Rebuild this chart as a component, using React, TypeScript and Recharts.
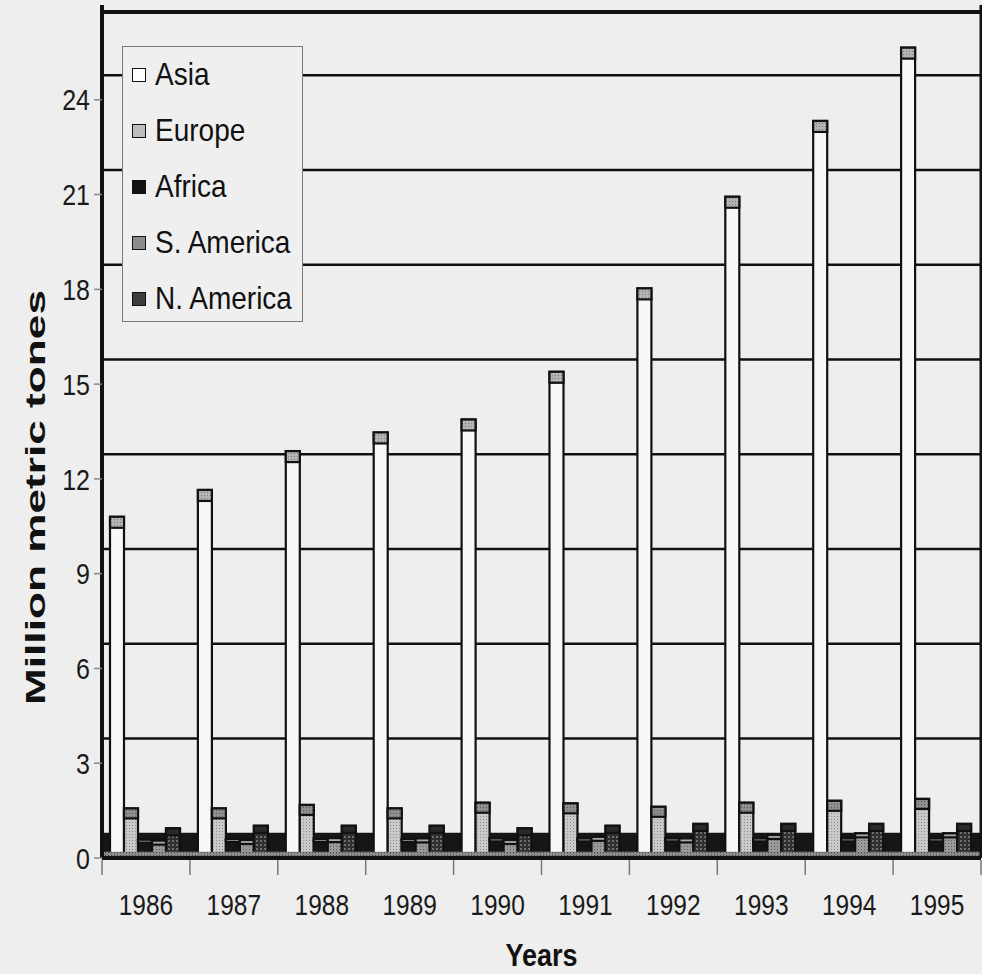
import React from 'react';
import {
  BarChart,
  Bar,
  XAxis,
  YAxis,
  CartesianGrid,
  Legend,
  ReferenceArea,
  ReferenceLine,
} from 'recharts';

const years = ['1986', '1987', '1988', '1989', '1990', '1991', '1992', '1993', '1994', '1995'];
const asia = [10.8, 11.65, 12.88, 13.47, 13.88, 15.39, 18.03, 20.93, 23.33, 25.65];
const europe = [1.57, 1.57, 1.68, 1.57, 1.75, 1.73, 1.62, 1.75, 1.81, 1.87];
const africa = [0.58, 0.6, 0.6, 0.6, 0.62, 0.62, 0.62, 0.62, 0.62, 0.62];
const sAmerica = [0.55, 0.57, 0.63, 0.62, 0.57, 0.67, 0.62, 0.73, 0.78, 0.78];
const nAmerica = [0.94, 1.02, 1.02, 1.02, 0.94, 1.02, 1.08, 1.08, 1.08, 1.08];

const yTicks = [0, 3, 6, 9, 12, 15, 18, 21, 24];
const wallTicks = [3, 6, 9, 12, 15, 18, 21, 24];

const data = years.map((year, i) => ({
  year,
  asia: asia[i],
  europe: europe[i],
  africa: africa[i],
  sAmerica: sAmerica[i],
  nAmerica: nAmerica[i],
}));

// back wall of the 3D frame sits ~25px above the front axis
const wallShift = 0.78;

const series = [
  { key: 'asia', name: 'Asia', fill: '#f8f8f8', cap: 'url(#capLight)', capH: 11, swatch: '#ffffff' },
  { key: 'europe', name: 'Europe', fill: 'url(#europe)', cap: 'url(#capMid)', capH: 10, swatch: '#bdbdbd' },
  { key: 'africa', name: 'Africa', fill: '#151515', cap: '#9c9c9c', capH: 3, swatch: '#111111' },
  { key: 'sAmerica', name: 'S. America', fill: 'url(#sam)', cap: '#a9a9a9', capH: 4, swatch: '#8c8c8c' },
  { key: 'nAmerica', name: 'N. America', fill: 'url(#nam)', cap: '#2a2a2a', capH: 7, swatch: '#3d3d3d' },
];

const font = '"Liberation Sans", Arial, Helvetica, sans-serif';

function Block(props: any) {
  const { x, y, width, height, fill, capFill, capH } = props;
  if (!height || height <= 0) return null;
  const c = Math.min(capH, height);
  return (
    <g>
      <rect x={x} y={y} width={width} height={height} fill={fill} stroke="#111" strokeWidth={2.2} />
      <rect x={x} y={y} width={width} height={c} fill={capFill} stroke="#111" strokeWidth={2.2} />
    </g>
  );
}

function XTick(props: any) {
  const { x, y, payload, index } = props;
  const half = payload.offset || 44;
  const last = index === years.length - 1;
  return (
    <g>
      <line x1={x - half} x2={x - half} y1={y + 2} y2={y + 17} stroke="#777" strokeWidth={1.5} />
      {last && <line x1={x + half} x2={x + half} y1={y + 2} y2={y + 17} stroke="#777" strokeWidth={1.5} />}
      <text
        transform={`translate(${x},${y + 57}) scale(1,1.18)`}
        textAnchor="middle"
        fontSize={24.5}
        fontFamily={font}
        fill="#1a1a1a"
      >
        {payload.value}
      </text>
    </g>
  );
}

function YTick(props: any) {
  const { x, y, payload } = props;
  return (
    <text
      transform={`translate(${x},${y}) scale(1,1.18)`}
      textAnchor="end"
      dy="0.36em"
      fontSize={25}
      fontFamily={font}
      fill="#1a1a1a"
    >
      {payload.value}
    </text>
  );
}

function YTitle(props: any) {
  const vb = props.viewBox || { x: 0, y: 5, width: 102, height: 853 };
  const cx = vb.x + 35;
  const cy = vb.y + vb.height / 2 + 66;
  return (
    <text
      x={cx}
      y={cy}
      transform={`rotate(-90 ${cx} ${cy})`}
      textAnchor="middle"
      dominantBaseline="central"
      fontSize={28}
      fontWeight="bold"
      fontFamily={font}
      textLength={415}
      lengthAdjust="spacingAndGlyphs"
      fill="#111"
    >
      Million metric tones
    </text>
  );
}

function XTitle(props: any) {
  const vb = props.viewBox || { x: 102, y: 858, width: 880, height: 80 };
  const cx = vb.x + vb.width / 2;
  return (
    <text
      transform={`translate(${cx},${vb.y + vb.height + 28}) scale(1,1.18)`}
      textAnchor="middle"
      fontSize={27}
      fontWeight="bold"
      fontFamily={font}
      fill="#111"
    >
      Years
    </text>
  );
}

function LegendBox() {
  return (
    <div
      style={{
        width: 181,
        height: 276,
        boxSizing: 'border-box',
        border: '1.5px solid #7a7a7a',
        background: '#efefef',
        fontFamily: font,
      }}
    >
      {series.map((s) => (
        <div key={s.key} style={{ display: 'flex', alignItems: 'center', height: 56, paddingLeft: 9 }}>
          <span
            style={{
              display: 'inline-block',
              width: 12,
              height: 12,
              border: '1.5px solid #111',
              background: s.swatch,
              marginRight: 9,
            }}
          />
          <span style={{ display: 'inline-block', fontSize: 28, color: '#111', transform: 'scaleY(1.15)' }}>
            {s.name}
          </span>
        </div>
      ))}
    </div>
  );
}

export default function App() {
  return (
    <div
      style={{
        position: 'absolute',
        left: 0,
        top: 0,
        width: 982,
        height: 974,
        background: '#eeeeee',
        fontFamily: font,
      }}
    >
      <BarChart
        width={982}
        height={974}
        data={data}
        margin={{ top: 5, right: 0, bottom: 36, left: 0 }}
        barCategoryGap={8}
        barGap={0}
      >
        <defs>
          <pattern id="europe" width="3" height="3" patternUnits="userSpaceOnUse">
            <rect width="3" height="3" fill="#c9c9c9" />
            <rect width="1" height="1" fill="#8e8e8e" />
          </pattern>
          <pattern id="sam" width="3" height="3" patternUnits="userSpaceOnUse">
            <rect width="3" height="3" fill="#9a9a9a" />
            <rect width="1" height="1" fill="#5a5a5a" />
          </pattern>
          <pattern id="nam" width="4" height="4" patternUnits="userSpaceOnUse">
            <rect width="4" height="4" fill="#2e2e2e" />
            <rect width="2" height="2" fill="#6e6e6e" />
          </pattern>
          <pattern id="capLight" width="3" height="3" patternUnits="userSpaceOnUse">
            <rect width="3" height="3" fill="#b4b4b4" />
            <rect width="1" height="1" fill="#777" />
          </pattern>
          <pattern id="capMid" width="3" height="3" patternUnits="userSpaceOnUse">
            <rect width="3" height="3" fill="#8f8f8f" />
            <rect width="1" height="1" fill="#555" />
          </pattern>
          <pattern id="floorEdge" width="3" height="3" patternUnits="userSpaceOnUse">
            <rect width="3" height="3" fill="#8a8a8a" />
            <rect width="1" height="1" fill="#444" />
          </pattern>
        </defs>
        <CartesianGrid
          yAxisId="wall"
          vertical={false}
          horizontalValues={wallTicks}
          stroke="#111"
          strokeWidth={2.5}
        />
        <XAxis
          dataKey="year"
          tick={<XTick />}
          tickLine={false}
          tickSize={0}
          tickMargin={0}
          height={80}
          interval={0}
          axisLine={{ stroke: '#111', strokeWidth: 4 }}
          label={<XTitle />}
        />
        <YAxis
          yAxisId="front"
          domain={[0, 27]}
          allowDataOverflow
          ticks={yTicks}
          interval={0}
          width={102}
          tick={<YTick />}
          tickSize={8}
          tickMargin={4}
          tickLine={{ stroke: '#888', strokeWidth: 1.5 }}
          axisLine={{ stroke: '#111', strokeWidth: 4 }}
          label={<YTitle />}
        />
        <YAxis
          yAxisId="wall"
          orientation="right"
          domain={[-wallShift, 27 - wallShift]}
          allowDataOverflow
          ticks={wallTicks}
          interval={0}
          width={1}
          tick={() => <g />}
          tickLine={false}
          axisLine={{ stroke: '#111', strokeWidth: 3 }}
        />
        <ReferenceArea yAxisId="front" y1={0} y2={0.8} fill="#161616" fillOpacity={1} stroke="none" />
        <ReferenceLine yAxisId="wall" y={26.0} stroke="#111" strokeWidth={4} />
        <Legend
          layout="vertical"
          align="center"
          verticalAlign="middle"
          wrapperStyle={{ left: 122, top: 46, width: 181, height: 276 }}
          content={() => <LegendBox />}
        />
        {series.map((s) => (
          <Bar
            key={s.key}
            yAxisId="front"
            dataKey={s.key}
            name={s.name}
            fill={s.fill}
            isAnimationActive={false}
            shape={(p: any) => <Block {...p} fill={s.fill} capFill={s.cap} capH={s.capH} />}
          />
        ))}
        <ReferenceArea
          yAxisId="front"
          y1={0}
          y2={0.2}
          fill="url(#floorEdge)"
          fillOpacity={1}
          stroke="none"
          zIndex={350}
        />
      </BarChart>
    </div>
  );
}
